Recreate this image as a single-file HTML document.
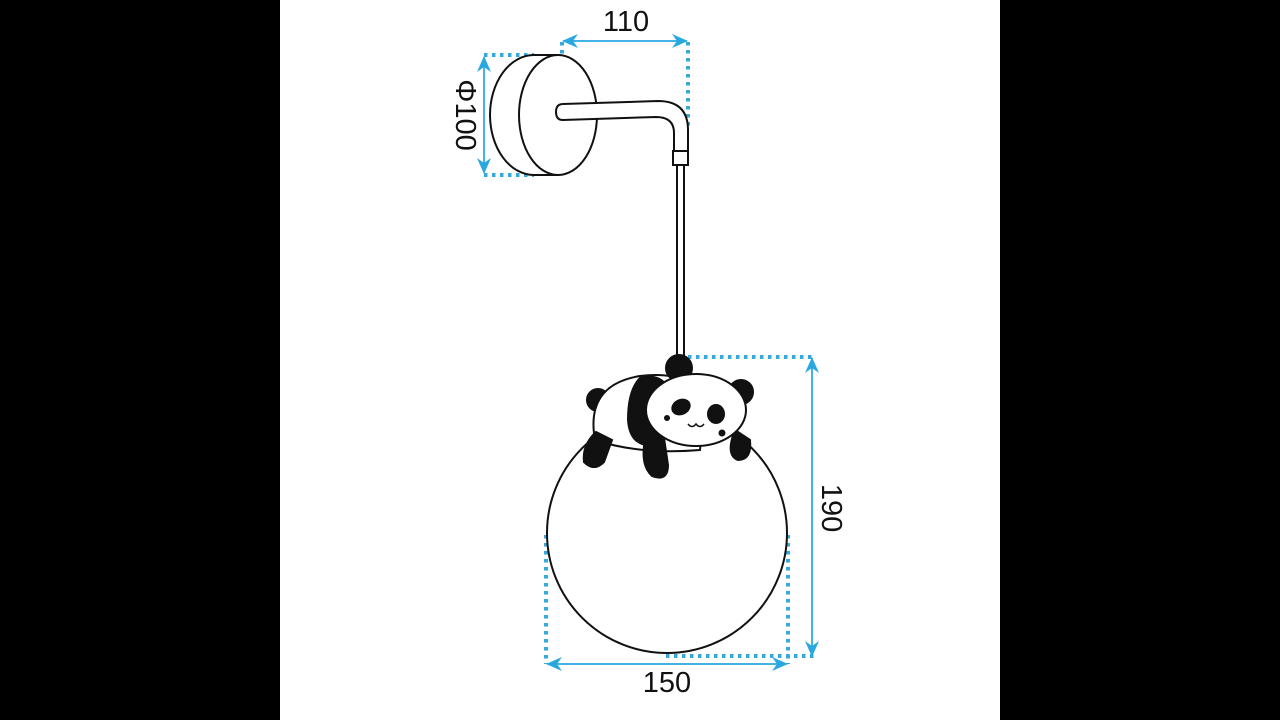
<!DOCTYPE html>
<html><head><style>
html,body{margin:0;padding:0;background:#000;}
svg{display:block;}
text{font-family:"Liberation Sans",sans-serif;font-size:29px;fill:#111;}
</style></head><body>
<svg width="1280" height="720" viewBox="0 0 1280 720" xmlns="http://www.w3.org/2000/svg">
<rect x="0" y="0" width="1280" height="720" fill="#000"/>
<rect x="280" y="0" width="720" height="720" fill="#fff"/>
<defs>
<marker id="ar" markerWidth="16" markerHeight="14" refX="15" refY="7" orient="auto" markerUnits="userSpaceOnUse">
<path d="M0,0 L16,7 L0,14 L5,7 Z" fill="#29a8e0"/></marker>
</defs>
<g stroke="#33a9e0" stroke-width="4" stroke-dasharray="3.5 4.5" fill="none">
<path d="M562 42 V106"/><path d="M688 42 V130"/>
<path d="M484 55 H534"/><path d="M484 175 H534"/>
<path d="M688 357 H814"/><path d="M666 656 H814"/>
<path d="M546 535 V664"/><path d="M788 535 V664"/>
</g>
<g stroke="#29a8e0" stroke-width="1.5" fill="none">
<path d="M570 41 H687" marker-end="url(#ar)"/><path d="M680 41 H563" marker-end="url(#ar)"/>
<path d="M484 64 V173" marker-end="url(#ar)"/><path d="M484 166 V57" marker-end="url(#ar)"/>
<path d="M812 364 V656" marker-end="url(#ar)"/><path d="M812 648 V358" marker-end="url(#ar)"/>
<path d="M554 664 H787" marker-end="url(#ar)"/><path d="M780 664 H547" marker-end="url(#ar)"/>
</g>
<text x="626" y="31" text-anchor="middle">110</text>
<text x="667" y="692" text-anchor="middle">150</text>
<text transform="translate(456,115) rotate(90)" text-anchor="middle">Φ100</text>
<text transform="translate(822,508) rotate(90)" text-anchor="middle">190</text>
<g stroke="#111" stroke-width="2" fill="#fff">
<path d="M534 55 A44 60 0 0 0 534 175 L558 175 L558 55 Z" stroke="none"/>
<path d="M534 55 A44 60 0 0 0 534 175"/>
<path d="M534 55 H558 M534 175 H558" />
<ellipse cx="558" cy="115" rx="39" ry="60"/>
<path d="M563 104 L658 101 Q688 101 688 130 L688 151 L674 151 L674 133 Q674 117 656 117 L563 120 Q556 120 556 112 Q556 104 563 104 Z"/>
<rect x="673" y="151" width="15" height="14"/>
<path d="M677 165 V360 M684 165 V360" fill="none"/>
</g>
<circle cx="667" cy="533" r="120" fill="#fff" stroke="#111" stroke-width="2"/>
<g stroke="#111" stroke-width="2">
<circle cx="598" cy="400" r="11" fill="#111"/>
<path d="M595 440 Q585 385 640 376 Q690 370 705 400 L700 450 Q640 455 595 440 Z" fill="#fff"/>
<path d="M640 378 Q665 372 670 395 L660 445 Q630 450 628 420 Q628 390 640 378 Z" fill="#111"/>
<path d="M596 432 Q582 445 584 462 Q594 472 604 462 L612 440 Z" fill="#111"/>
<circle cx="679" cy="368" r="13" fill="#111"/>
<circle cx="741" cy="392" r="12" fill="#111"/>
<path d="M645 440 Q640 465 652 476 Q668 482 668 465 L664 438 Z" fill="#111"/>
<path d="M735 430 Q725 455 738 460 Q752 460 750 440 Z" fill="#111"/>
<ellipse cx="696" cy="410" rx="50" ry="36" fill="#fff"/>
<ellipse cx="681" cy="407" rx="9" ry="7" fill="#111" transform="rotate(-25 681 407)"/>
<ellipse cx="716" cy="414" rx="8" ry="9" fill="#111"/>
<path d="M688 424 q4 5 8 0 q4 5 8 0" fill="none" stroke-width="1.5"/>
</g>
<circle cx="667" cy="418" r="3" fill="#111"/>
<circle cx="722" cy="433" r="3.5" fill="#111"/>
</svg>
</body></html>
